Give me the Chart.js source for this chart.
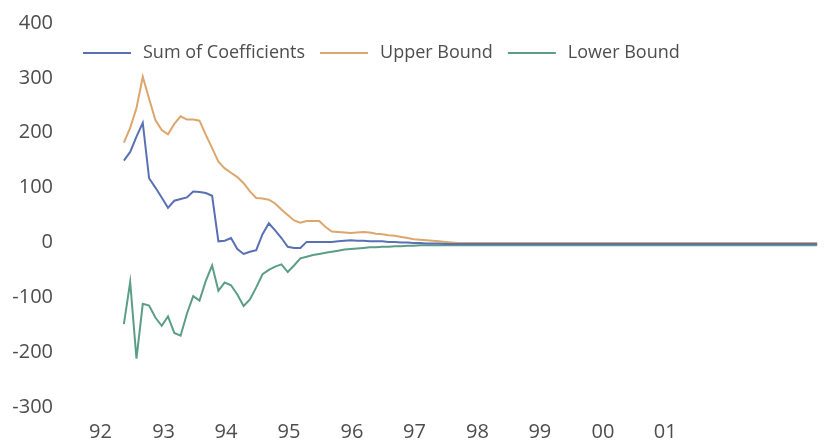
<!DOCTYPE html>
<html lang="en">
<head>
    <meta charset="UTF-8">
    <title>Sum of Coefficients</title>
    <script src="https://cdn.jsdelivr.net/npm/chart.js"></script>
    <style>
        html, body { margin: 0; padding: 0; background: #fff; }
        #wrap { width: 835px; height: 443px; }
    </style>
</head>
<body>
    <div id="wrap"><canvas id="chart"></canvas></div>

    <script>
        const sumCoef = [
            149, 165, 193, 218, 117, 100, 82, 63, 76, 79,
            82, 93, 92, 90, 85, 2, 3, 8, -12, -21,
            -17, -14, 15, 35, 22, 8, -8, -10, -10, 1,
            1, 1, 1, 1, 2, 3, 4, 3, 3, 2,
            2, 2, 1, 1, 0, 0, -1, -1, -2, -2,
            -2, -3, -3, -3, -3, -3, -3, -3, -3, -3,
            -3, -3, -3, -3, -3, -3, -3, -3, -3, -3,
            -3, -3, -3, -3, -3, -3, -3, -3, -3, -3,
            -3, -3, -3, -3, -3, -3, -3, -3, -3, -3,
            -3, -3, -3, -3, -3, -3, -3, -3, -3, -3,
            -3, -3, -3, -3, -3, -3, -3, -3, -3, -3,
            -3
        ];
        const upperBound = [
            182, 209, 245, 302, 262, 223, 205, 197, 216, 230,
            224, 224, 222, 196, 172, 147, 135, 127, 119, 108,
            93, 81, 80, 78, 71, 60, 50, 40, 36, 39,
            39, 39, 28, 20, 19, 18, 17, 18, 19, 18,
            16, 15, 13, 12, 10, 8, 6, 5, 4, 3,
            2, 1, 0, -1, -1, -1, -1, -1, -1, -1,
            -1, -1, -1, -1, -1, -1, -1, -1, -1, -1,
            -1, -1, -1, -1, -1, -1, -1, -1, -1, -1,
            -1, -1, -1, -1, -1, -1, -1, -1, -1, -1,
            -1, -1, -1, -1, -1, -1, -1, -1, -1, -1,
            -1, -1, -1, -1, -1, -1, -1, -1, -1, -1,
            -1
        ];
        const lowerBound = [
            -149, -72, -212, -112, -115, -137, -152, -135, -165, -170,
            -130, -98, -106, -70, -42, -88, -73, -78, -95, -116,
            -104, -82, -58, -50, -44, -40, -54, -42, -29, -26,
            -23, -21, -19, -17, -15, -13, -12, -11, -10, -9,
            -9, -8, -8, -7, -7, -6, -6, -5, -5, -5,
            -5, -5, -5, -5, -5, -5, -5, -5, -5, -5,
            -5, -5, -5, -5, -5, -5, -5, -5, -5, -5,
            -5, -5, -5, -5, -5, -5, -5, -5, -5, -5,
            -5, -5, -5, -5, -5, -5, -5, -5, -5, -5,
            -5, -5, -5, -5, -5, -5, -5, -5, -5, -5,
            -5, -5, -5, -5, -5, -5, -5, -5, -5, -5,
            -5
        ];

        // year labels and where they sit, in observation units
        const yearLabels = ['92', '93', '94', '95', '96', '97', '98', '99', '00', '01'];
        const yearPos = [-3.7, 6.3, 16.2, 26.2, 36.2, 46.1, 56.1, 66.0, 76.0, 85.9];

        const seriesNames = ['Sum of Coefficients', 'Upper Bound', 'Lower Bound'];
        const seriesColors = ['#5a70b5', '#dca66c', '#5c9d86'];

        const toPoints = arr => arr.map((v, i) => ({ x: i, y: v }));

        // legend drawn inside the plot, like the original
        const insideLegend = {
            id: 'insideLegend',
            afterDraw(chart) {
                const ctx = chart.ctx;
                let x = 83;
                const y = 53;
                ctx.save();
                ctx.font = '18px "Open Sans"';
                ctx.textBaseline = 'middle';
                chart.data.datasets.forEach(ds => {
                    ctx.strokeStyle = ds.borderColor;
                    ctx.lineWidth = 2;
                    ctx.beginPath();
                    ctx.moveTo(x, y);
                    ctx.lineTo(x + 48, y);
                    ctx.stroke();
                    x += 48 + 12;
                    ctx.fillStyle = '#4d4d4d';
                    ctx.fillText(ds.label, x, y);
                    x += ctx.measureText(ds.label).width + 15;
                });
                ctx.restore();
            }
        };

        Chart.defaults.font.family = '"Open Sans", sans-serif';
        Chart.defaults.color = '#4d4d4d';

        new Chart(document.getElementById('chart'), {
            type: 'line',
            data: {
                datasets: [sumCoef, upperBound, lowerBound].map((arr, k) => ({
                    label: seriesNames[k],
                    data: toPoints(arr),
                    borderColor: seriesColors[k],
                    backgroundColor: seriesColors[k],
                    borderWidth: 2,
                    pointRadius: 0,
                    tension: 0,
                    fill: false
                }))
            },
            options: {
                responsive: true,
                maintainAspectRatio: false,
                animation: false,
                layout: { padding: { top: 8, right: 9, bottom: 0, left: 0 } },
                plugins: {
                    legend: { display: false },
                    tooltip: { enabled: false }
                },
                scales: {
                    x: {
                        type: 'linear',
                        min: -9.5,
                        max: 111.4,
                        grid: { display: false, drawTicks: false },
                        border: { display: false },
                        afterBuildTicks: scale => {
                            scale.ticks = yearPos.map(v => ({ value: v }));
                        },
                        afterFit: scale => { scale.height = 36; },
                        ticks: {
                            autoSkip: false,
                            maxRotation: 0,
                            padding: 13,
                            font: { size: 20 },
                            callback: value => yearLabels[yearPos.indexOf(value)]
                        }
                    },
                    y: {
                        min: -300,
                        max: 400,
                        grid: { display: false, drawTicks: false },
                        border: { display: false },
                        afterFit: scale => { scale.width = 64; },
                        ticks: {
                            stepSize: 100,
                            padding: 11,
                            font: { size: 20 }
                        }
                    }
                }
            },
            plugins: [insideLegend]
        });
    </script>
</body>
</html>
